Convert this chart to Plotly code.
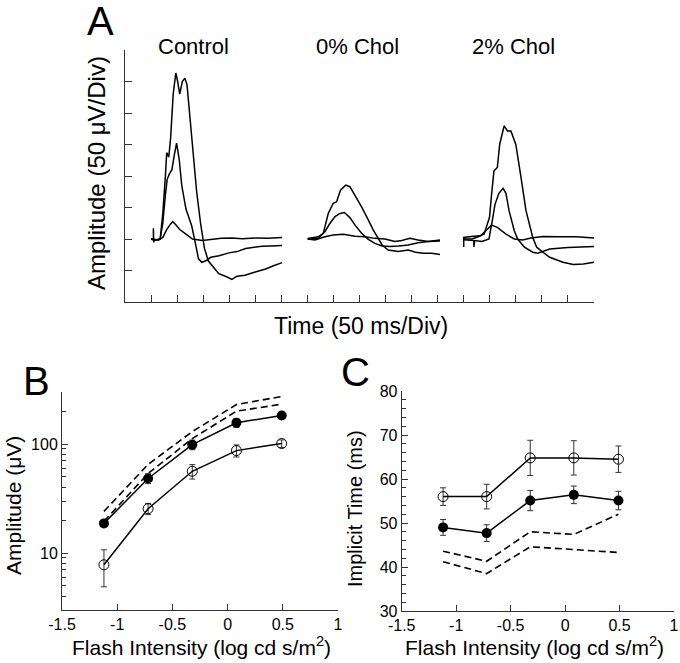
import plotly.graph_objects as go

# ---------------- Panel A : ERG traces (x in 50 ms divisions, y in 50 uV divisions) -------------
ctrl_small_x = [1.0, 1.05, 1.09, 1.09, 1.1, 1.15, 1.3, 1.45, 1.6, 1.75, 1.83, 1.95, 2.1, 2.3, 2.59, 2.97, 3.3, 3.7, 4.1, 4.5, 5.0, 5.5, 6.03]
ctrl_small_y = [2.0, 1.98, 2.0, 2.34, 1.9, 1.98, 1.97, 2.05, 2.3, 2.48, 2.55, 2.45, 2.3, 2.18, 2.0, 1.95, 1.98, 2.02, 2.03, 2.01, 2.03, 2.02, 2.05]

ctrl_med_x = [1.0, 1.2, 1.35, 1.45, 1.55, 1.62, 1.7, 1.8, 1.9, 1.98, 2.08, 2.18, 2.34, 2.56, 2.72, 2.82, 2.95, 3.1, 3.29, 3.61, 3.99, 4.3, 4.63, 5.0, 5.26, 5.6, 6.03]
ctrl_med_y = [2.0, 1.97, 2.0, 2.5, 3.4, 3.9, 4.06, 4.2, 4.7, 5.04, 4.53, 3.69, 2.95, 2.42, 1.79, 1.37, 1.26, 1.31, 1.42, 1.47, 1.56, 1.6, 1.7, 1.74, 1.77, 1.78, 1.79]

ctrl_big_x = [1.0, 1.2, 1.35, 1.45, 1.55, 1.6, 1.68, 1.75, 1.85, 1.95, 2.02, 2.1, 2.2, 2.3, 2.38, 2.48, 2.6, 2.75, 2.9, 3.05, 3.2, 3.4, 3.6, 3.9, 4.1, 4.3, 4.6, 5.0, 5.4, 5.7, 6.03]
ctrl_big_y = [2.0, 1.98, 2.0, 2.8, 4.0, 4.74, 4.6, 5.2, 6.6, 7.27, 7.0, 6.6, 7.0, 7.1, 6.9, 6.0, 4.7, 3.5, 2.5, 1.7, 1.3, 1.1, 0.9, 0.8, 0.72, 0.82, 0.85, 0.95, 1.05, 1.15, 1.25]

chol0_small_x = [7.01, 7.29, 7.67, 7.99, 8.38, 8.83, 9.21, 9.59, 9.98, 10.36, 10.62, 10.93, 11.25, 11.64, 12.09]
chol0_small_y = [2.0, 1.97, 2.07, 2.13, 2.15, 2.09, 2.07, 2.02, 2.0, 1.92, 1.95, 2.02, 1.97, 1.92, 1.97]

chol0_med_x = [7.01, 7.42, 7.67, 7.87, 8.06, 8.25, 8.42, 8.63, 8.83, 9.08, 9.34, 9.59, 9.87, 10.17, 10.5, 10.87, 11.25, 11.64, 12.09]
chol0_med_y = [2.0, 2.02, 2.23, 2.5, 2.71, 2.81, 2.84, 2.68, 2.44, 2.18, 1.99, 1.86, 1.78, 1.76, 1.78, 1.81, 1.88, 1.92, 1.94]

chol0_big_x = [7.01, 7.42, 7.61, 7.8, 7.99, 8.12, 8.27, 8.47, 8.63, 8.83, 9.08, 9.34, 9.53, 9.72, 9.87, 10.1, 10.49, 10.87, 11.15, 11.45, 11.77, 12.09]
chol0_big_y = [2.02, 2.07, 2.18, 2.81, 3.13, 3.18, 3.55, 3.71, 3.66, 3.39, 3.02, 2.6, 2.28, 2.02, 1.81, 1.65, 1.6, 1.65, 1.58, 1.55, 1.55, 1.51]

chol2_small_x = [13.0, 13.32, 13.65, 13.9, 14.07, 14.29, 14.61, 14.94, 15.26, 15.58, 16.04, 16.68, 17.33, 18.0]
chol2_small_y = [2.0, 2.0, 2.1, 2.32, 2.44, 2.37, 2.16, 2.0, 1.97, 2.03, 2.08, 2.07, 2.07, 2.03]

chol2_med_x = [13.0, 13.39, 13.39, 13.42, 13.7, 13.97, 14.1, 14.2, 14.35, 14.51, 14.62, 14.74, 14.94, 15.07, 15.33, 15.65, 15.84, 16.3, 17.0, 17.5, 18.0]
chol2_med_y = [1.98, 1.95, 1.75, 1.95, 1.92, 2.0, 2.6, 3.1, 3.45, 3.61, 3.45, 2.9, 2.26, 2.0, 1.74, 1.58, 1.55, 1.68, 1.73, 1.75, 1.76]

chol2_big_x = [13.0, 13.0, 13.3, 13.6, 13.78, 13.99, 14.07, 14.16, 14.29, 14.38, 14.55, 14.68, 14.81, 15.0, 15.2, 15.39, 15.65, 15.8, 16.04, 16.3, 16.81, 17.2, 17.59, 18.0]
chol2_big_y = [1.75, 2.05, 2.08, 2.1, 2.15, 2.69, 3.42, 4.16, 4.27, 5.0, 5.59, 5.43, 5.43, 5.0, 3.95, 2.9, 2.05, 1.74, 1.58, 1.42, 1.26, 1.19, 1.21, 1.26]

group_labels = ["Control", "0% Chol", "2% Chol"]

# ---------------- Panels B and C ----------------
intensity = [-1.12, -0.72, -0.32, 0.08, 0.49]

amp_filled = [18.7, 48.3, 98.6, 156.6, 182.9]
amp_filled_err = [1.0, 5.0, 10.0, 15.0, 12.0]
amp_open = [7.8, 25.5, 56.2, 87.0, 101.0]
amp_open_err = [2.9, 3.0, 8.5, 11.0, 8.0]
amp_dash_upper = [24.1, 65.0, 130.0, 230.0, 273.0]
amp_dash_lower = [19.5, 53.6, 112.0, 200.0, 232.0]

time_filled = [49.0, 47.7, 55.1, 56.4, 55.1]
time_filled_err = [1.8, 1.9, 2.3, 2.0, 2.1]
time_open = [56.0, 56.0, 64.8, 64.8, 64.5]
time_open_err = [2.0, 2.8, 4.0, 3.9, 3.0]
time_dash_upper = [43.6, 41.3, 48.0, 47.4, 52.0]
time_dash_lower = [41.2, 38.5, 44.6, 44.0, 43.3]

x_tick_vals = [-1.5, -1, -0.5, 0, 0.5, 1]
x_tick_text = ["-1.5", "-1", "-0.5", "0", "0.5", "1"]
amp_tick_vals = [10, 100]
amp_tick_text = ["10", "100"]
amp_minor_vals = [4, 5, 6, 7, 8, 9, 20, 30, 40, 50, 60, 70, 80, 90, 200, 300]
time_tick_vals = [30, 40, 50, 60, 70, 80]

FONT = "Liberation Sans, Arial, Helvetica, sans-serif"
W, H = 680, 663


def px(x):
    return x / W


def py(y):
    return 1 - y / H


fig = go.Figure()

trace_line = dict(color="black", width=1.5)
for xs, ys in [(ctrl_small_x, ctrl_small_y), (ctrl_med_x, ctrl_med_y), (ctrl_big_x, ctrl_big_y),
               (chol0_small_x, chol0_small_y), (chol0_med_x, chol0_med_y), (chol0_big_x, chol0_big_y),
               (chol2_small_x, chol2_small_y), (chol2_med_x, chol2_med_y), (chol2_big_x, chol2_big_y)]:
    fig.add_trace(go.Scatter(x=xs, y=ys, mode="lines", line=trace_line, xaxis="x", yaxis="y",
                             showlegend=False, hoverinfo="skip"))

# Panel B
dash_line = dict(color="black", width=1.6, dash="7px,4px")
fig.add_trace(go.Scatter(x=intensity, y=amp_dash_upper, mode="lines", line=dash_line, xaxis="x2", yaxis="y2", showlegend=False))
fig.add_trace(go.Scatter(x=intensity, y=amp_dash_lower, mode="lines", line=dash_line, xaxis="x2", yaxis="y2", showlegend=False))
fig.add_trace(go.Scatter(x=intensity, y=amp_open, mode="lines+markers", xaxis="x2", yaxis="y2", showlegend=False,
                         line=dict(color="black", width=1.5),
                         marker=dict(symbol="circle-open", size=10, color="black", line=dict(width=1)),
                         error_y=dict(type="data", array=amp_open_err, color="#333", thickness=1, width=3)))
fig.add_trace(go.Scatter(x=intensity, y=amp_filled, mode="lines+markers", xaxis="x2", yaxis="y2", showlegend=False,
                         line=dict(color="black", width=1.5),
                         marker=dict(symbol="circle", size=10, color="black"),
                         error_y=dict(type="data", array=amp_filled_err, color="#333", thickness=1, width=3)))

# Panel C
fig.add_trace(go.Scatter(x=intensity, y=time_dash_upper, mode="lines", line=dash_line, xaxis="x3", yaxis="y3", showlegend=False))
fig.add_trace(go.Scatter(x=intensity, y=time_dash_lower, mode="lines", line=dash_line, xaxis="x3", yaxis="y3", showlegend=False))
fig.add_trace(go.Scatter(x=intensity, y=time_open, mode="lines+markers", xaxis="x3", yaxis="y3", showlegend=False,
                         line=dict(color="black", width=1.5),
                         marker=dict(symbol="circle-open", size=10, color="black", line=dict(width=1)),
                         error_y=dict(type="data", array=time_open_err, color="#333", thickness=1, width=3)))
fig.add_trace(go.Scatter(x=intensity, y=time_filled, mode="lines+markers", xaxis="x3", yaxis="y3", showlegend=False,
                         line=dict(color="black", width=1.5),
                         marker=dict(symbol="circle", size=10, color="black"),
                         error_y=dict(type="data", array=time_filled_err, color="#333", thickness=1, width=3)))

axis_common = dict(showline=True, linecolor="#333", linewidth=1, showgrid=False, zeroline=False,
                   ticks="inside", tickcolor="#333", tickwidth=1, mirror=False, automargin=False,
                   tickfont=dict(family=FONT, size=16, color="black"))

fig.update_layout(
    template="none",
    width=W, height=H, autosize=False,
    margin=dict(l=0, r=0, t=0, b=0, pad=0),
    paper_bgcolor="white", plot_bgcolor="white",
    showlegend=False,
    xaxis=dict(axis_common, domain=[px(125), px(594)], range=[0, 18], tickmode="linear", tick0=0, dtick=1,
               ticklen=7, showticklabels=False, anchor="y"),
    yaxis=dict(axis_common, domain=[py(302), py(50)], range=[0, 8], tickmode="linear", tick0=0, dtick=1,
               ticklen=7, showticklabels=False, anchor="x"),
    xaxis2=dict(axis_common, domain=[px(62), px(338)], range=[-1.5, 1], tickmode="array",
                tickvals=x_tick_vals, ticktext=x_tick_text, ticklen=6, anchor="y2"),
    yaxis2=dict(axis_common, domain=[py(610), py(392)], type="log", range=[0.47712, 2.47712],
                tickmode="array", tickvals=amp_tick_vals, ticktext=amp_tick_text, ticklen=6, anchor="x2",
                minor=dict(tickmode="array", tickvals=amp_minor_vals, ticks="inside", ticklen=4,
                           tickcolor="#333", showgrid=False)),
    xaxis3=dict(axis_common, domain=[px(401.7), px(674)], range=[-1.5, 1], tickmode="array",
                tickvals=x_tick_vals, ticktext=x_tick_text, ticklen=6, anchor="y3"),
    yaxis3=dict(axis_common, domain=[py(611), py(391)], range=[30, 80], tickmode="array",
                tickvals=time_tick_vals, ticklen=6, anchor="x3",
                minor=dict(dtick=2, ticks="inside", ticklen=4, tickcolor="#333", showgrid=False)),
)

ann = []


def text(x, y, s, size, angle=0, xanchor="center", yanchor="middle"):
    ann.append(dict(x=px(x), y=py(y), xref="paper", yref="paper", text=s, showarrow=False,
                    textangle=angle, xanchor=xanchor, yanchor=yanchor,
                    font=dict(family=FONT, size=size, color="black")))


# Panel letters
text(100, 21, "A", 40)
text(36, 381, "B", 40)
text(355, 372, "C", 40)

# Panel A labels
for lab, gx in zip(group_labels, [193, 357, 513]):
    text(gx, 47, lab, 22)
text(97, 173, "Amplitude (50 μV/Div)", 24, angle=-90)
text(361, 326, "Time (50 ms/Div)", 23)

# Panel B/C axis titles
text(14, 506, "Amplitude (μV)", 21, angle=-90)
text(355, 509, "Implicit Time (ms)", 20, angle=-90)
text(201, 646, "Flash Intensity (log cd s/m<sup>2</sup>)", 21)
text(534, 646, "Flash Intensity (log cd s/m<sup>2</sup>)", 21)

fig.update_layout(annotations=ann)

fig.write_html("out.html", config={"displayModeBar": False},
               post_script="document.body.style.margin='0px';document.body.style.overflow='hidden';")
